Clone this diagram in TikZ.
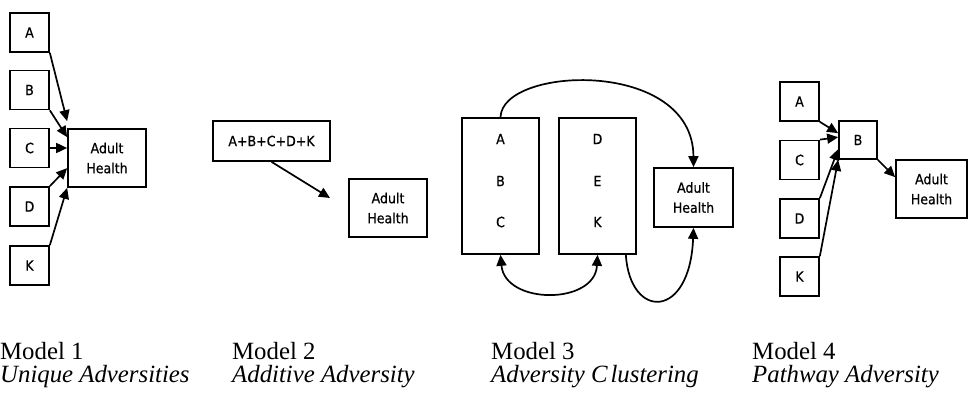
\documentclass[tikz,border=0pt]{standalone}
\usepackage{fontspec}
\setmainfont{Liberation Serif}
\newfontfamily\boxfont[FakeStretch=0.9,FakeBold=0.6]{DejaVu Sans}
\usetikzlibrary{arrows.meta,calc}
\begin{document}
\begin{tikzpicture}[x=1pt,y=-1pt,
  box/.style={draw,line width=1.7pt,inner sep=0pt,font=\boxfont\fontsize{14}{20}\selectfont,align=center},
  sq/.style={box,minimum width=39pt,minimum height=39pt},
  ah/.style={box,minimum width=78pt,minimum height=58pt},
  letter/.style={inner sep=0pt,font=\boxfont\fontsize{14}{20}\selectfont},
  arr/.style={line width=1.7pt,-{Triangle[length=11pt,width=10pt]}},
  darr/.style={line width=1.7pt,{Triangle[length=11pt,width=10pt]}-{Triangle[length=11pt,width=10pt]}},
  cap1/.style={anchor=base west,inner sep=0pt,font=\fontsize{24.8}{28}\selectfont},
  cap2/.style={anchor=base west,inner sep=0pt,font=\fontsize{24.8}{28}\selectfont\itshape}]
\useasboundingbox (0,0) rectangle (969,393);

% Model 1
\node[sq] (A1) at (29.5,32.5) {A};
\node[sq] (B1) at (29.5,90) {B};
\node[sq] (C1) at (29.5,148) {C};
\node[sq] (D1) at (29.5,206.5) {D};
\node[sq] (K1) at (29.5,265.5) {K};
\node[ah] (H1) at (107,158) {Adult\\Health};
\draw[arr] (A1.south east) -- ([yshift=7pt]H1.north west);
\draw[arr] (B1.south east) -- ([yshift=-9pt]H1.north west);
\draw[arr] (C1.east) -- (C1.east -| H1.west);
\draw[arr] (D1.north east) -- ([yshift=-40pt]H1.north west);
\draw[arr] (K1.north east) -- (H1.south west);

% Model 2
\node[box,minimum width=117pt,minimum height=40pt] (S2) at (271.5,141) {A+B+C+D+K};
\node[ah] (H2) at (388,208) {Adult\\Health};
\coordinate (T2) at (330,198);
\draw[arr] (S2.south) -- (T2);

% Model 3
\node[box,minimum width=77pt,minimum height=136pt] (G1) at (500.5,186) {};
\node[box,minimum width=77pt,minimum height=136pt] (G2) at (597.5,186) {};
\node[letter] (LA) at (500.5,139) {A};
\node[letter] (LB) at (500.5,181) {B};
\node[letter] (LC) at (500.5,222) {C};
\node[letter] (LD) at (597.5,139) {D};
\node[letter] (LE) at (597.5,181) {E};
\node[letter] (LK) at (597.5,222) {K};
\node[ah,minimum width=79pt,minimum height=59pt] (H3) at (693.5,197.5) {Adult\\Health};
\draw[arr] (G1.north) .. controls (502,66) and (693,58) .. (H3.north);
\draw[darr] (G1.south) .. controls (505,305) and (595,305) .. (G2.south);
\draw[arr] ([xshift=-11pt]G2.south east) .. controls (630,320) and (690,320) .. (H3.south);

% Model 4
\node[sq] (A4) at (799.5,101.5) {A};
\node[sq] (C4) at (799.5,160) {C};
\node[sq] (D4) at (799.5,218.5) {D};
\node[sq] (K4) at (799.5,276.5) {K};
\node[sq,minimum width=38pt,minimum height=38pt] (B4) at (858,140) {B};
\node[ah,minimum width=71pt] (H4) at (931.5,189) {Adult\\Health};
\draw[arr] (A4.south east) -- ([yshift=-13pt]B4.north west);
\draw[arr] (C4.north east) -- ([yshift=-17pt]B4.north west);
\draw[arr] (D4.north east) -- ([yshift=-29pt]B4.north west);
\draw[arr] (K4.north east) -- (B4.south west);
\draw[arr] (B4.south east) -- ([yshift=-18pt]H4.north west);

% Captions
\node[cap1] (M1) at (0,359) {Model 1};
\node[cap2] (N1) at (0,382) {Unique Adversities};
\node[cap1] (M2) at (232,359) {Model 2};
\node[cap2] (N2) at (232,382) {Additive Adversity};
\node[cap1] (M3) at (491,359) {Model 3};
\node[cap2] (N3) at (491,382) {Adversity C\kern3pt lustering};
\node[cap1] (M4) at (752,359) {Model 4};
\node[cap2] (N4) at (752,382) {Pathway Adversity};
\end{tikzpicture}
\end{document}
